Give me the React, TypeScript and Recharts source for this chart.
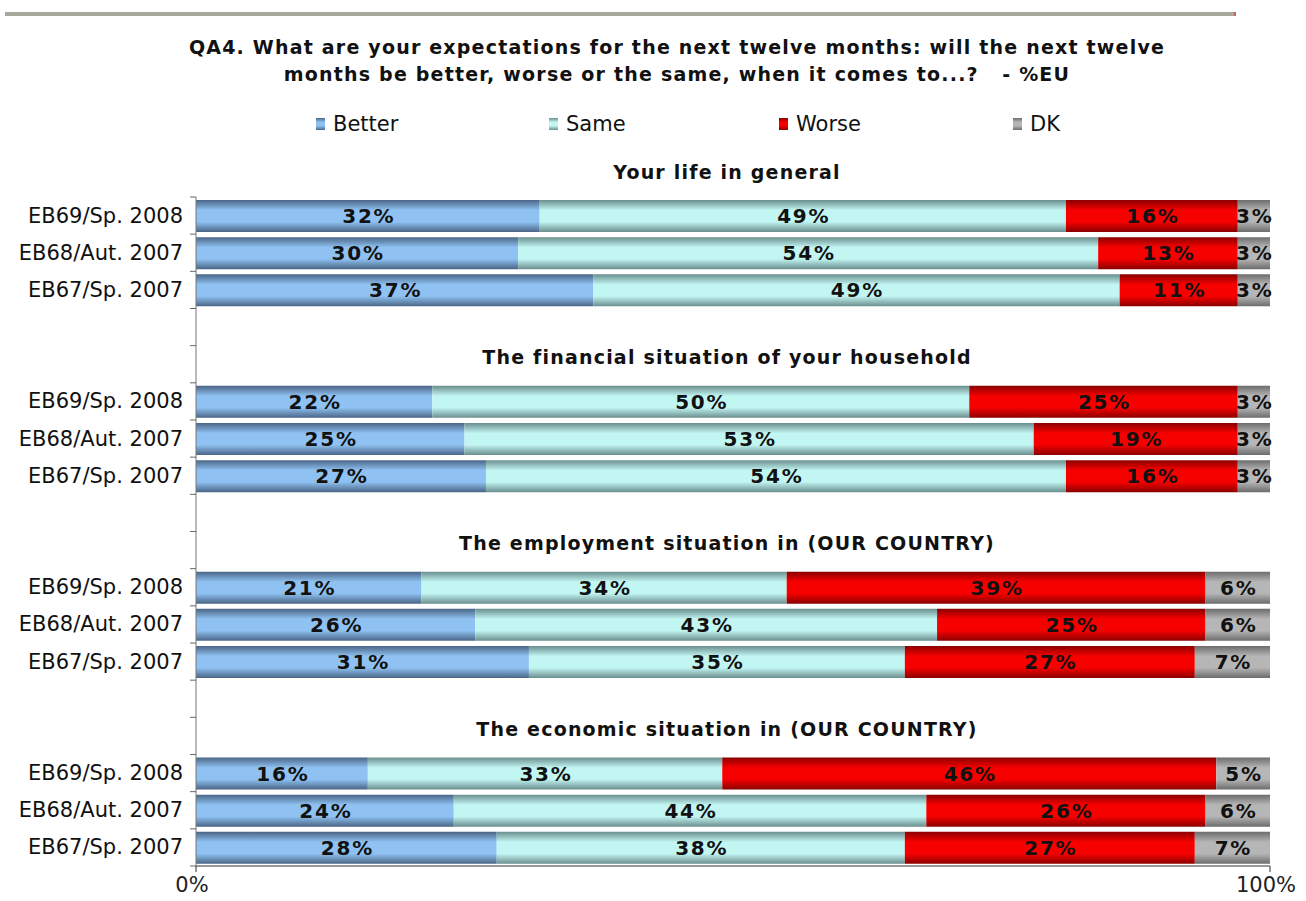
import { BarChart, Bar, XAxis, YAxis, LabelList, Legend, ReferenceLine } from 'recharts'

const rowLabels = ['EB69/Sp. 2008', 'EB68/Aut. 2007', 'EB67/Sp. 2007']
const groupTitles = [
  'Your life in general',
  'The financial situation of your household',
  'The employment situation in (OUR COUNTRY)',
  'The economic situation in (OUR COUNTRY)',
]
const better = [32, 30, 37, 22, 25, 27, 21, 26, 31, 16, 24, 28]
const same = [49, 54, 49, 50, 53, 54, 34, 43, 35, 33, 44, 38]
const worse = [16, 13, 11, 25, 19, 16, 39, 25, 27, 46, 26, 27]
const dk = [3, 3, 3, 3, 3, 3, 6, 6, 7, 5, 6, 7]
const xTicks = [0, 100]

const series = [
  { key: 'better', name: 'Better', dark: '#4a6586', light: '#8fc2f2', values: better },
  { key: 'same', name: 'Same', dark: '#6a8e8e', light: '#c2f6f3', values: same },
  { key: 'worse', name: 'Worse', dark: '#8a0000', light: '#f70000', values: worse },
  { key: 'dk', name: 'DK', dark: '#6c6c6c', light: '#b6b6b6', values: dk },
]

type Row = { id: string; label: string; [k: string]: string | number | undefined }

const rows: Row[] = []
groupTitles.forEach((_, g) => {
  if (g > 0) {
    rows.push({ id: `gap${g}a`, label: '' })
    rows.push({ id: `gap${g}b`, label: '' })
  }
  rowLabels.forEach((label, i) => {
    const idx = g * 3 + i
    const row: Row = { id: `g${g}r${i}`, label }
    series.forEach((s) => {
      row[s.key] = s.values[idx]
    })
    rows.push(row)
  })
})

const labelById: Record<string, string> = {}
rows.forEach((r) => {
  labelById[r.id] = r.label
})

const font = '"DejaVu Sans", Verdana, sans-serif'
const chartW = 1306
const chartH = 901
const margin = { top: 167, right: 36, bottom: 0, left: 0 }
const legendH = 30
const xAxisH = 35
const plotH = chartH - margin.top - legendH - margin.bottom - xAxisH
const band = plotH / rows.length

function CategoryTick(props: any) {
  const { x, y, payload, index } = props
  const axisX = x + 12
  const isLast = index === rows.length - 1
  return (
    <g>
      <text x={x - 1} y={y} textAnchor="end" dominantBaseline="central" fontSize={21} fill="#111" fontFamily={font}>
        {labelById[payload.value]}
      </text>
      <line x1={axisX - 6} x2={axisX} y1={y - band / 2} y2={y - band / 2} stroke="#666" />
      {isLast && <line x1={axisX - 6} x2={axisX} y1={y + band / 2} y2={y + band / 2} stroke="#666" />}
    </g>
  )
}

const legendLeft = [316, 549, 779, 1013]

function LegendContent() {
  return (
    <div style={{ position: 'relative', height: legendH, width: chartW, fontFamily: font }}>
      {series.map((s, i) => (
        <div
          key={s.key}
          style={{ position: 'absolute', left: legendLeft[i], top: 0, height: legendH, display: 'flex', alignItems: 'center' }}
        >
          <span
            style={{
              display: 'inline-block',
              width: 9,
              height: 12,
              marginRight: 8,
              background: `linear-gradient(${s.dark}, ${s.light} 35%, ${s.light} 65%, ${s.dark})`,
            }}
          />
          <span style={{ fontSize: 21, color: '#111' }}>{s.name}</span>
        </div>
      ))}
    </div>
  )
}

function ValueLabel(props: any) {
  const { x, y, width, height, value } = props
  if (value == null) return null
  return (
    <text
      x={x + width / 2 + 1}
      y={y + height / 2}
      textAnchor="middle"
      dominantBaseline="central"
      fontSize={20}
      fontWeight="bold"
      letterSpacing={1.8}
      fill="#111"
      fontFamily={font}
    >
      {`${value}%`}
    </text>
  )
}

function GroupTitle(title: string) {
  return (props: any) => {
    const vb = props.viewBox || {}
    return (
      <text
        x={(vb.x ?? 0) + (vb.width ?? 0) / 2 - 6}
        y={(vb.y ?? 0) - 44}
        textAnchor="middle"
        dominantBaseline="central"
        fontSize={19}
        fontWeight="bold"
        letterSpacing={1.2}
        fill="#111"
        fontFamily={font}
      >
        {title}
      </text>
    )
  }
}

export default function App() {
  return (
    <div style={{ position: 'absolute', left: 0, top: 0, width: chartW, height: chartH, background: '#fff', fontFamily: font }}>
      <div style={{ position: 'absolute', left: 5, top: 12, width: 1231, height: 4, background: '#a9a99b' }} />
      <div style={{ position: 'absolute', left: 1234, top: 12, width: 2, height: 4, background: '#c86060' }} />
      <div
        style={{
          position: 'absolute',
          left: 0,
          top: 34,
          width: 1354,
          textAlign: 'center',
          fontSize: 19,
          fontWeight: 'bold',
          letterSpacing: 1.2,
          lineHeight: '27px',
          color: '#111',
        }}
      >
        QA4. What are your expectations for the next twelve months: will the next twelve
        <br />
        months be better, worse or the same, when it comes to...?&nbsp;&nbsp;&nbsp;- %EU
      </div>
      <BarChart width={chartW} height={chartH} data={rows} layout="vertical" margin={margin} barSize={32}>
        <defs>
          {series.map((s) => (
            <linearGradient key={s.key} id={`grad-${s.key}`} x1="0" y1="0" x2="0" y2="1">
              <stop offset="0%" stopColor={s.dark} />
              <stop offset="32%" stopColor={s.light} />
              <stop offset="68%" stopColor={s.light} />
              <stop offset="100%" stopColor={s.dark} />
            </linearGradient>
          ))}
        </defs>
        <Legend verticalAlign="top" content={LegendContent} wrapperStyle={{ top: 109, left: 0, width: chartW, height: legendH }} />
        <XAxis
          type="number"
          domain={[0, 100]}
          ticks={xTicks}
          tickFormatter={(v: number) => `${v}%`}
          height={xAxisH}
          axisLine={{ stroke: '#333' }}
          tickLine={{ stroke: '#333' }}
          tickSize={6}
          tickMargin={5}
          tick={{ fontSize: 21, fill: '#222', fontFamily: font, dx: -4 }}
        />
        <YAxis
          type="category"
          dataKey="id"
          width={196}
          interval={0}
          axisLine={{ stroke: '#777' }}
          tickLine={false}
          tickSize={6}
          tickMargin={6}
          tick={<CategoryTick />}
        />
        {series.map((s) => (
          <Bar key={s.key} dataKey={s.key} name={s.name} stackId="a" fill={`url(#grad-${s.key})`} isAnimationActive={false}>
            <LabelList dataKey={s.key} content={ValueLabel} />
          </Bar>
        ))}
        {groupTitles.map((t, g) => (
          <ReferenceLine key={t} y={`g${g}r0`} stroke="none" ifOverflow="visible" label={GroupTitle(t)} />
        ))}
      </BarChart>
    </div>
  )
}
